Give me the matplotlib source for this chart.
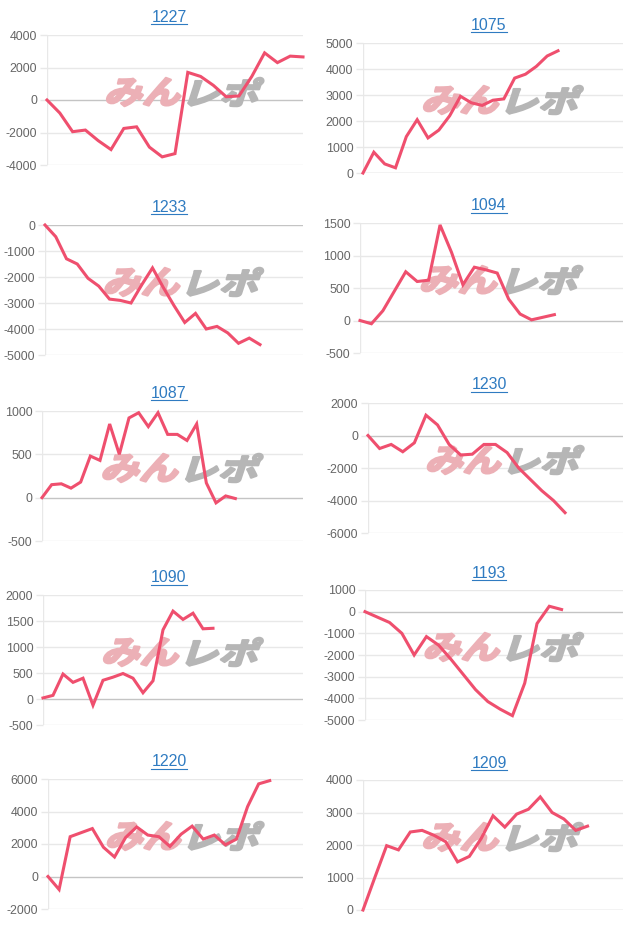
import matplotlib
matplotlib.use('Agg')
import matplotlib.pyplot as plt
from matplotlib.textpath import TextPath
from matplotlib.patches import PathPatch
from matplotlib.font_manager import FontProperties
from matplotlib.transforms import Affine2D
from matplotlib.lines import Line2D

W, H = 640, 931

# chart data (cumulative difference per day)
names = ['1227', '1075', '1233', '1094', '1087', '1230', '1090', '1193', '1220', '1209']

s1227 = [0, -800, -1950, -1850, -2500, -3050, -1750, -1650, -2900, -3500, -3300,
         1700, 1450, 900, 200, 250, 1450, 2900, 2300, 2700, 2650]
s1075 = [0, 800, 350, 200, 1400, 2050, 1350, 1650, 2200, 2950, 2700, 2600, 2800,
         2850, 3650, 3800, 4100, 4500, 4700]
s1233 = [0, -450, -1300, -1500, -2050, -2350, -2850, -2900, -3000, -2300, -1650,
         -2400, -3100, -3750, -3400, -4000, -3900, -4150, -4550, -4350, -4600]
s1094 = [0, -50, 150, 450, 750, 600, 620, 1470, 1050, 550, 820, 780, 730, 330,
         100, 10, 50, 90]
s1087 = [0, 150, 160, 110, 180, 480, 430, 850, 500, 920, 980, 820, 980, 730, 730,
         660, 850, 170, -60, 20, -10]
s1230 = [0, -800, -550, -1000, -450, 1250, 650, -550, -1200, -1150, -550, -550,
         -1050, -2000, -2700, -3400, -4000, -4750]
s1090 = [20, 70, 480, 320, 400, -120, 360, 420, 490, 400, 120, 350, 1330, 1690,
         1530, 1650, 1350, 1360]
s1193 = [0, -250, -500, -1000, -2000, -1150, -1550, -2200, -2900, -3600, -4150,
         -4500, -4800, -3300, -550, 250, 100]
s1220 = [0, -800, 2450, 2700, 2950, 1800, 1200, 2400, 3050, 2550, 2450, 1850, 2600,
         3100, 2300, 2550, 1950, 2300, 4300, 5700, 5900]
s1209 = [0, 1000, 1980, 1850, 2400, 2450, 2300, 2100, 1480, 1650, 2200, 2900, 2550,
         2950, 3100, 3480, 3000, 2800, 2450, 2580]

series = [s1227, s1075, s1233, s1094, s1087, s1230, s1090, s1193, s1220, s1209]
n_days = [21, 25, 25, 24, 28, 23, 27, 22, 24, 23]

y_min = [-4000, 0, -5000, -500, -500, -6000, -500, -5000, -2000, 0]
y_max = [4000, 5000, 0, 1500, 1000, 2000, 2000, 1000, 6000, 4000]
y_step = [2000, 1000, 1000, 500, 500, 2000, 500, 1000, 2000, 1000]

# layout in pixels
tops = [35, 43, 225, 223, 411, 403, 595, 590, 779, 780]
lefts = [47, 363, 45, 360, 42, 368, 43, 365, 48, 363]
title_y = [17, 25, 207, 206, 393, 385, 578, 573, 762, 763]
plot_h = 130

line_color = '#ef4f6e'
grid_color = '#e8e8e8'
zero_color = '#c4c4c4'
label_color = '#666666'
title_color = '#2f7bc1'

plt.rcParams['font.family'] = ['Liberation Sans', 'DejaVu Sans']

fig = plt.figure(figsize=(W / 100, H / 100), dpi=100)
fig.patch.set_facecolor('white')

px = Affine2D().scale(1 / W, 1 / H) + fig.transFigure
jp = FontProperties(family='Noto Sans CJK JP', weight='bold')


def watermark(ax, x0, y_top, w):
    # pink "みん" + grey "レポ", slanted like the site logo
    parts = [('みん', '#ecb0b6', 0.0, 0.47), ('レポ', '#b6b6b6', 0.52, 1.0)]
    for txt, col, a, b in parts:
        path = TextPath((0, 0), txt, size=10, prop=jp)
        path = Affine2D().skew_deg(14, 0).transform_path(path)
        bb = path.get_extents()
        tx = x0 + a * w
        tw = (b - a) * w
        th = 28
        tr = (Affine2D().translate(-bb.x0, -bb.y0)
              .scale(tw / bb.width, th / bb.height)
              .translate(tx, H - y_top - th))
        patch = PathPatch(tr.transform_path(path), facecolor=col, edgecolor=col,
                          lw=1.8, joinstyle='round', transform=px, zorder=1.5,
                          clip_on=False)
        ax.add_artist(patch)


titles = []
for i, name in enumerate(names):
    col = i % 2
    left = lefts[i]
    right = 303 if col == 0 else 623
    top = tops[i]
    ax = fig.add_axes([left / W, 1 - (top + plot_h) / H, (right - left) / W, plot_h / H])
    vals = series[i]
    ax.plot(range(len(vals)), vals, color=line_color, lw=2.2, zorder=3,
            solid_joinstyle='miter', clip_on=False)
    ax.set_xlim(0, n_days[i] - 1)
    ax.set_ylim(y_min[i], y_max[i])
    ticks = list(range(y_min[i], y_max[i] + 1, y_step[i]))
    ax.set_yticks(ticks)
    ax.set_yticklabels([str(t) for t in ticks])
    ax.set_xticks([])
    for sp in ax.spines.values():
        sp.set_visible(False)
    for t in ticks:
        ax.axhline(t, color=zero_color if t == 0 else grid_color, lw=1, zorder=1)
    ax.axvline(0, color=grid_color, lw=1, zorder=1)
    ax.tick_params(axis='y', length=5, width=1, color=grid_color,
                   labelcolor=label_color, labelsize=8.9, pad=2)
    watermark(ax, left + 0.235 * (right - left), top + 43, 0.61 * (right - left))

    tx = 169 if col == 0 else 489
    t = fig.text(tx / W, 1 - title_y[i] / H, name, ha='center', va='center',
                 fontsize=11.5, color=title_color)
    titles.append(t)

# underline the titles (they are links on the page)
fig.canvas.draw()
renderer = fig.canvas.get_renderer()
for t in titles:
    bb = t.get_window_extent(renderer)
    y = bb.y0 + 0.5
    fig.add_artist(Line2D([bb.x0 / W, bb.x1 / W], [y / H, y / H],
                          color=title_color, lw=0.8, transform=fig.transFigure))

fig.savefig('out.png', dpi=100)
